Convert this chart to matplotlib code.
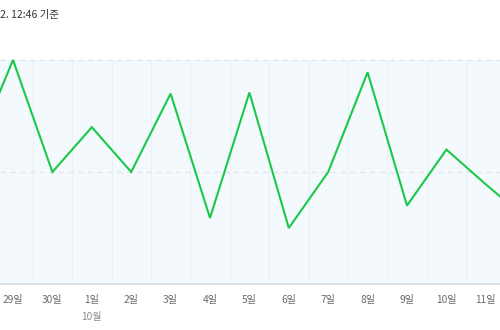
import matplotlib
matplotlib.use("Agg")
import matplotlib.pyplot as plt
import numpy as np

plt.rcParams['font.family'] = ['Noto Sans CJK KR', 'DejaVu Sans']

labels = ["28일", "29일", "30일", "1일", "2일", "3일", "4일", "5일", "6일", "7일", "8일", "9일", "10일", "11일", "12일"]
values = [11.5, 20.0, 10.0, 14.0, 10.0, 17.0, 5.9, 17.1, 5.0, 10.0, 18.9, 7.0, 12.0, 8.9, 5.9]
month_label = "10월"
month_index = 3
title = "2. 12:46 기준"

W, H = 500, 330
fig = plt.figure(figsize=(W / 100, H / 100), dpi=100)
ax_b = (H - 284) / H
ax_t = (H - 60) / H
ax = fig.add_axes([0.0, ax_b, 1.0, ax_t - ax_b])
ax.set_facecolor("#f4f9fd")

x = np.arange(len(values))
sp = 39.4
x0 = 1 - 13 / sp
x1 = 1 + (W - 13) / sp

for m in x[:-1] + 0.5:
    ax.axvline(m, color="#eaf1f6", lw=0.8, zorder=0)
for yv in [10, 20]:
    ax.axhline(yv, color="#e3e7ea", lw=1.0, ls=(0, (4, 3)), zorder=1, clip_on=False)

ax.plot(x, values, color="#1ac84a", lw=1.5, zorder=3, clip_on=False, solid_joinstyle="miter")

for s in ["top", "left", "right"]:
    ax.spines[s].set_visible(False)
ax.spines["bottom"].set_color("#d8dde1")
ax.spines["bottom"].set_linewidth(1.2)
ax.set_yticks([])
vis = x[1:-1]
ax.set_xticks(vis)
ax.set_xticklabels([labels[i] for i in vis], fontsize=7.3, color="#6a6a6a", fontweight="medium")
ax.tick_params(axis="x", length=0, pad=8)
ax.set_xlim(x0, x1)
ax.set_ylim(0, 20)

ax.text(month_index, -0.125, month_label, transform=ax.get_xaxis_transform(),
        ha="center", va="top", fontsize=7.3, color="#8c8c8c")

fig.text(0 / W, 1 - 15 / H, title, ha="left", va="center", fontsize=7.5, color="#333333", fontweight="medium")

fig.savefig("out.png", dpi=100, facecolor="white")
